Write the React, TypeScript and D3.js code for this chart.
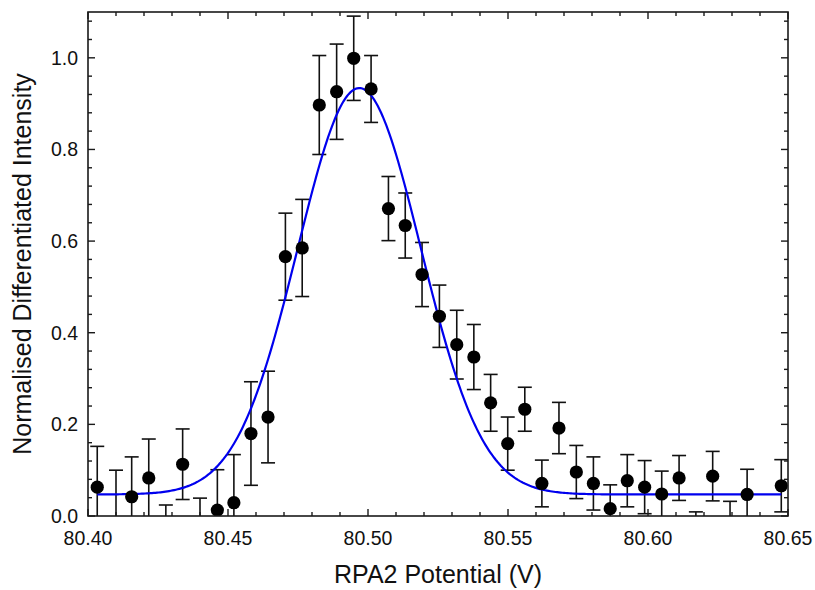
import React from "react";
import * as d3 from "d3";

// ---- Data ----
const potential = [80.4033, 80.41, 80.4156, 80.4217, 80.4278, 80.4338, 80.44, 80.4462, 80.4521, 80.4582, 80.4643, 80.4705, 80.4765, 80.4826, 80.4888, 80.4949, 80.5011, 80.5073, 80.5133, 80.5193, 80.5255, 80.5317, 80.5378, 80.5438, 80.5499, 80.556, 80.5621, 80.5682, 80.5744, 80.5805, 80.5865, 80.5926, 80.5988, 80.6049, 80.6111, 80.6171, 80.6231, 80.6293, 80.6354, 80.6414, 80.6476];
const intensity = [0.063, -0.02, 0.042, 0.083, -0.06, 0.113, -0.04, 0.013, 0.029, 0.18, 0.216, 0.566, 0.585, 0.897, 0.926, 0.999, 0.932, 0.671, 0.634, 0.527, 0.436, 0.374, 0.347, 0.247, 0.158, 0.233, 0.071, 0.192, 0.096, 0.071, 0.016, 0.077, 0.063, 0.048, 0.083, -0.04, 0.087, -0.02, 0.047, -0.07, 0.066];
const errors = [0.089, 0.12, 0.087, 0.085, 0.084, 0.077, 0.079, 0.088, 0.105, 0.113, 0.1, 0.095, 0.106, 0.108, 0.104, 0.092, 0.073, 0.07, 0.071, 0.07, 0.068, 0.075, 0.071, 0.062, 0.058, 0.048, 0.051, 0.056, 0.058, 0.058, 0.052, 0.057, 0.058, 0.05, 0.049, 0.049, 0.054, 0.052, 0.055, 0.05, 0.057];

// Gaussian fit parameters
const fitBaseline = 0.047;
const fitAmplitude = 0.887;
const fitCenter = 80.4969;
const fitSigma = 0.02196;

const xMajorTicks = [80.4, 80.45, 80.5, 80.55, 80.6, 80.65];
const yMajorTicks = [0, 0.2, 0.4, 0.6, 0.8, 1.0];

const xTitle = "RPA2 Potential (V)";
const yTitle = "Normalised Differentiated Intensity";

// ---- Layout ----
const W = 815;
const H = 590;
const M = { left: 88, right: 27, top: 12, bottom: 74 };
const FONT = "'Liberation Sans', Arial, Helvetica, sans-serif";

export default function App() {
  const x = d3.scaleLinear().domain([80.4, 80.65]).range([M.left, W - M.right]);
  const y = d3.scaleLinear().domain([0, 1.1]).range([H - M.bottom, M.top]);
  const x0 = M.left, x1 = W - M.right, y0 = H - M.bottom, y1 = M.top;

  const xMinor = d3.range(0, 26).map((i) => 80.4 + i * 0.01).filter((v) => !xMajorTicks.some((t) => Math.abs(t - v) < 1e-6));
  const yMinor = d3.range(0, 28).map((i) => i * 0.04).filter((v) => v <= 1.1 + 1e-9 && !yMajorTicks.some((t) => Math.abs(t - v) < 1e-6));

  const first = potential[0];
  const last = potential[potential.length - 1];
  const fitX = d3.range(0, 401).map((i) => first + ((last - first) * i) / 400);
  const fitLine = d3
    .line<number>()
    .x((v) => x(v))
    .y((v) => y(fitBaseline + fitAmplitude * Math.exp(-((v - fitCenter) ** 2) / (2 * fitSigma * fitSigma))));

  const axisColor = "#1a1a1a";
  const majorLen = 7;
  const minorLen = 4;
  const cap = 7;

  return (
    <svg width={W} height={H} style={{ position: "absolute", left: 0, top: 0, background: "#fff" }} fontFamily={FONT}>
      <defs>
        <clipPath id="plotClip">
          <rect x={x0} y={y1} width={x1 - x0} height={y0 - y1} />
        </clipPath>
      </defs>
      <rect x={0} y={0} width={W} height={H} fill="#fff" />

      <g clipPath="url(#plotClip)">
        {/* error bars */}
        {potential.map((p, i) => {
          const cx = x(p);
          const top = y(intensity[i] + errors[i]);
          const bot = y(intensity[i] - errors[i]);
          return (
            <g key={"e" + i} stroke="#111" strokeWidth={1.6} fill="none">
              <line x1={cx} x2={cx} y1={top} y2={bot} />
              <line x1={cx - cap} x2={cx + cap} y1={top} y2={top} />
              <line x1={cx - cap} x2={cx + cap} y1={bot} y2={bot} />
            </g>
          );
        })}
        {/* fit */}
        <path d={fitLine(fitX) || ""} fill="none" stroke="#0000ee" strokeWidth={2.2} />
        {/* points */}
        {potential.map((p, i) => (
          <circle key={"c" + i} cx={x(p)} cy={y(intensity[i])} r={6.6} fill="#000" />
        ))}
      </g>

      {/* ticks */}
      <g stroke={axisColor} strokeWidth={1.4}>
        {xMajorTicks.map((t) => (
          <g key={"xm" + t}>
            <line x1={x(t)} x2={x(t)} y1={y0} y2={y0 - majorLen} />
            <line x1={x(t)} x2={x(t)} y1={y1} y2={y1 + majorLen} />
          </g>
        ))}
        {xMinor.map((t) => (
          <g key={"xn" + t}>
            <line x1={x(t)} x2={x(t)} y1={y0} y2={y0 - minorLen} />
            <line x1={x(t)} x2={x(t)} y1={y1} y2={y1 + minorLen} />
          </g>
        ))}
        {yMajorTicks.map((t) => (
          <g key={"ym" + t}>
            <line x1={x0} x2={x0 + majorLen} y1={y(t)} y2={y(t)} />
            <line x1={x1} x2={x1 - majorLen} y1={y(t)} y2={y(t)} />
          </g>
        ))}
        {yMinor.map((t) => (
          <g key={"yn" + t}>
            <line x1={x0} x2={x0 + minorLen} y1={y(t)} y2={y(t)} />
            <line x1={x1} x2={x1 - minorLen} y1={y(t)} y2={y(t)} />
          </g>
        ))}
      </g>

      {/* frame */}
      <rect x={x0} y={y1} width={x1 - x0} height={y0 - y1} fill="none" stroke={axisColor} strokeWidth={1.6} />

      {/* tick labels */}
      <g fontSize={19.5} fill="#111">
        {xMajorTicks.map((t) => (
          <text key={"xl" + t} x={x(t)} y={y0 + 29} textAnchor="middle">
            {d3.format(".2f")(t)}
          </text>
        ))}
        {yMajorTicks.map((t) => (
          <text key={"yl" + t} x={x0 - 10} y={y(t) + 7} textAnchor="end">
            {d3.format(".1f")(t)}
          </text>
        ))}
      </g>

      {/* titles */}
      <text x={(x0 + x1) / 2} y={583} textAnchor="middle" fontSize={25} fill="#111">
        {xTitle}
      </text>
      <text
        transform={`translate(31, ${(y0 + y1) / 2}) rotate(-90)`}
        textAnchor="middle"
        fontSize={25}
        fill="#111"
      >
        {yTitle}
      </text>
    </svg>
  );
}
